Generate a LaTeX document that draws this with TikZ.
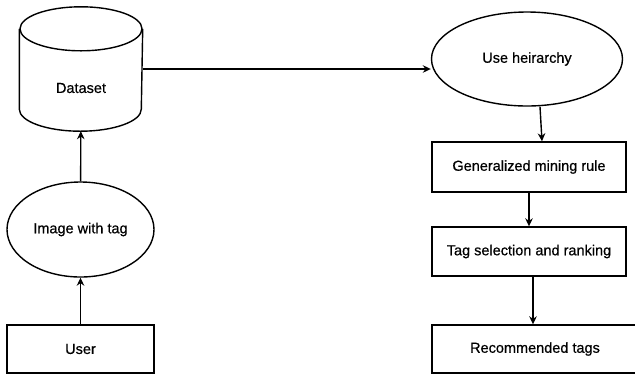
\documentclass[tikz,border=0pt]{standalone}
\usepackage{fontspec}
\setmainfont{Liberation Sans}
\newfontfamily\lblfont{Liberation Sans}[FakeBold=0.6]
\usetikzlibrary{shapes.geometric,arrows.meta}

\begin{document}
\begin{tikzpicture}
  [x=1pt,y=-1pt,line width=1.4pt,
   every node/.style={draw,line width=1.4pt,font=\lblfont\fontsize{14.5}{17}\selectfont,inner sep=2pt},
   box/.style={rectangle},
   oval/.style={ellipse},
   arr/.style={-{Stealth[length=8pt,width=7.5pt]}}]
  \useasboundingbox (0,0) rectangle (635,376);

  % dataset drum
  \node[draw=none,minimum width=122,minimum height=123] (data) at (81,69) {};
  \draw ([yshift=-22]data.north) ellipse [x radius=61pt,y radius=22pt];
  \draw ([yshift=-22]data.north west) -- ([yshift=22]data.south west)
    arc [start angle=180,end angle=360,x radius=61pt,y radius=22pt]
    -- ([yshift=-22]data.north east);
  \node[draw=none] (datatext) at (81,88) {Dataset};

  \node[oval,minimum width=147,minimum height=95] (img) at (80.5,229.5) {Image with tag};
  \node[box,minimum width=147,minimum height=48] (user) at (80.5,349) {User};

  \node[oval,minimum width=191,minimum height=94] (hier) at (527,59) {Use heirarchy};
  \node[box,minimum width=194,minimum height=50] (gen) at (529,167) {Generalized mining rule};
  \node[box,minimum width=194,minimum height=49] (tag) at (529,251.5) {Tag selection and ranking};
  \node[box,minimum width=206,minimum height=48] (rec) at (535,349) {Recommended tags};

  \foreach \from/\to in {user/img,img/data,gen/tag}
    \draw[arr] (\from) -- (\to);
  \draw[arr] (data.east) -- (data.east -| hier.west);
  \draw[arr] ([xshift=13]hier.south) -- ([xshift=13]gen.north);
  \draw[arr] ([xshift=4]tag.south) -- ([xshift=4]tag.south |- rec.north);

\end{tikzpicture}
\end{document}
